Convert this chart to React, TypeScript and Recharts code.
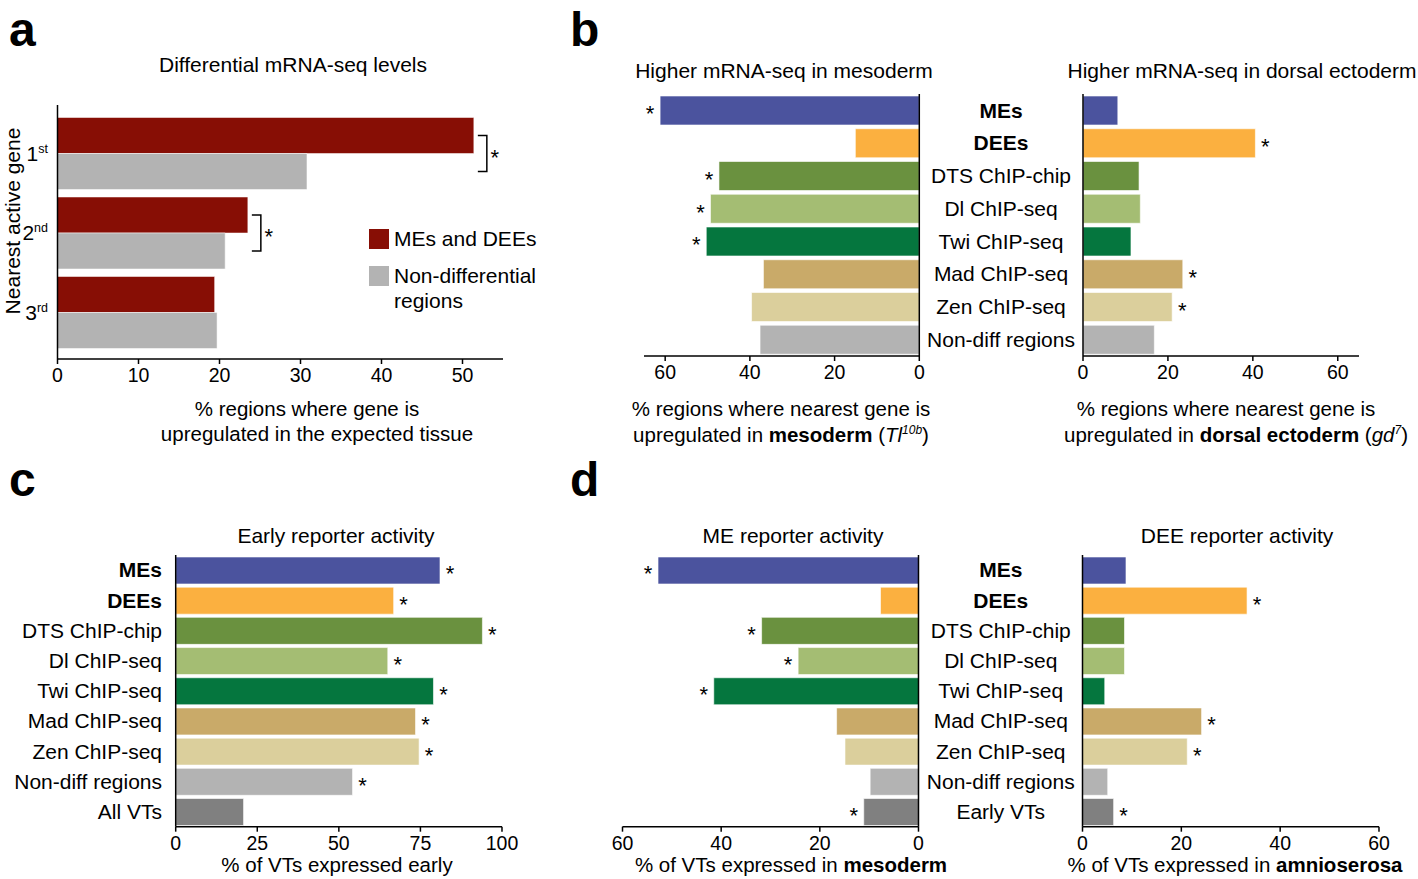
import React from 'react';
import { BarChart, Bar, XAxis, YAxis, Cell, LabelList } from 'recharts';

// panel a: nearest active gene
const aRanks = ['1', '2', '3'];
const aSuffix = ['st', 'nd', 'rd'];
const aDiffEnh = [51.4, 23.5, 19.4];
const aNonDiff = [30.8, 20.7, 19.7];
const aSignif = [true, true, false];
const aTicks = [0, 10, 20, 30, 40, 50];

// shared enhancer sets + colours
const sets = ['MEs', 'DEEs', 'DTS ChIP-chip', 'Dl ChIP-seq', 'Twi ChIP-seq', 'Mad ChIP-seq', 'Zen ChIP-seq', 'Non-diff regions'];
const setColors = ['#4b539e', '#fbb040', '#6a913f', '#a4bd73', '#05763e', '#c9aa69', '#dbcf9c', '#b3b3b3'];
const vtColor = '#808080';

// panel b: mRNA-seq
const bMesoderm = [61.2, 15.1, 47.3, 49.3, 50.3, 36.8, 39.6, 37.6];
const bMesodermStar = [1, 0, 1, 1, 1, 0, 0, 0];
const bDorsal = [8.2, 40.6, 13.2, 13.5, 11.3, 23.5, 21.0, 16.8];
const bDorsalStar = [0, 1, 0, 0, 0, 1, 1, 0];
const bTicks = [0, 20, 40, 60];

// panel c: early reporter activity
const cSets = [...sets, 'All VTs'];
const cEarly = [81, 66.8, 94, 65, 79, 73.5, 74.6, 54.2, 20.8];
const cEarlyStar = [1, 1, 1, 1, 1, 1, 1, 1, 0];
const cTicks = [0, 25, 50, 75, 100];

// panel d: ME / DEE reporter activity
const dSets = [...sets, 'Early VTs'];
const dMesoderm = [52.8, 7.7, 31.8, 24.4, 41.5, 16.6, 14.9, 9.8, 11.1];
const dMesodermStar = [1, 0, 1, 1, 1, 0, 0, 0, 1];
const dAmnio = [8.8, 33.3, 8.5, 8.5, 4.5, 24.1, 21.2, 5.1, 6.3];
const dAmnioStar = [0, 1, 0, 0, 0, 1, 1, 0, 1];
const dTicks = [0, 20, 40, 60];

const FONT = '"Liberation Sans", Arial, Helvetica, sans-serif';
const AX = { stroke: '#000', strokeWidth: 1.5 };
const STAR_SIZE = 22;

const makeRows = (names: string[], values: number[], stars: number[]) =>
  names.map((name, i) => ({ name, value: values[i], star: stars[i] ? '*' : '' }));

const aRows = aRanks.map((r, i) => ({
  name: r,
  diff: aDiffEnh[i],
  nondiff: aNonDiff[i],
  sig: aSignif[i] ? '*' : '',
}));

const colorsFor = (n: number) => [...setColors, vtColor].slice(0, n);

// asterisk next to a bar
const star = (side: 'left' | 'right') => (props: any) => {
  if (!props.value) return null;
  const vb = props.viewBox ?? props;
  const x = Number(vb.x), w = Number(vb.width), y = Number(vb.y), h = Number(vb.height);
  const left = Math.min(x, x + w);
  const right = Math.max(x, x + w);
  const cx = side === 'right' ? right + 10 : left - 10;
  return (
    <text x={cx} y={y + h / 2 + 11} textAnchor="middle" fontSize={STAR_SIZE} fill="#000">
      *
    </text>
  );
};

// bracket joining the two bars of a group in panel a
const bracket = (props: any) => {
  if (!props.value) return null;
  const vb = props.viewBox ?? props;
  const x = Number(vb.x), w = Number(vb.width), y = Number(vb.y), h = Number(vb.height);
  const right = Math.max(x, x + w);
  const y1 = y + h / 2;
  const y2 = y1 + h;
  return (
    <g>
      <path d={`M${right + 4},${y1}H${right + 13}V${y2}H${right + 4}`} stroke="#000" strokeWidth={1.5} fill="none" />
      <text x={right + 21} y={(y1 + y2) / 2 + 11} textAnchor="middle" fontSize={STAR_SIZE} fill="#000">
        *
      </text>
    </g>
  );
};

const RankTick = ({ y, payload }: any) => {
  const i = aRanks.indexOf(payload.value);
  return (
    <text x={48} y={y} dy="0.35em" textAnchor="end" fontSize={21} fill="#000">
      <tspan>{payload.value}</tspan>
      <tspan fontSize={12.5} dy={-8}>{aSuffix[i]}</tspan>
    </text>
  );
};

const labelTick = (x: number, anchor: 'middle' | 'end') => ({ y, payload }: any) => {
  const bold = payload.value === 'MEs' || payload.value === 'DEEs';
  return (
    <text x={x} y={y} dy="0.35em" textAnchor={anchor} fontSize={21} fontWeight={bold ? 700 : 400} fill="#000">
      {payload.value}
    </text>
  );
};

const Txt = ({ x, y, size = 20.5, weight = 400, children, rotate = false }: any) => (
  <div
    style={{
      position: 'absolute',
      left: x,
      top: y,
      fontSize: size,
      fontWeight: weight,
      lineHeight: 1,
      whiteSpace: 'nowrap',
      transform: `translate(-50%, -50%)${rotate ? ' rotate(-90deg)' : ''}`,
    }}
  >
    {children}
  </div>
);

const Letter = ({ x, y, children }: any) => (
  <div style={{ position: 'absolute', left: x, top: y, fontSize: 48, fontWeight: 700, lineHeight: 1 }}>{children}</div>
);

const tickStyle = { fill: '#000', fontSize: 19.5 };

// a horizontal bar panel; mirrored = bars grow to the left
const SetPanel = ({ left, top, width, height, margin, rows, colors, ticks, domain, mirrored, labels, yWidth, tick, barSize }: any) => (
  <div style={{ position: 'absolute', left, top }}>
    <BarChart width={width} height={height} data={rows} layout="vertical" margin={margin} barCategoryGap={0}>
      <XAxis
        type="number"
        domain={domain}
        ticks={ticks}
        reversed={mirrored}
        allowDataOverflow
        height={40}
        axisLine={AX}
        tickLine={AX}
        tickSize={5}
        tickMargin={4}
        tick={tickStyle}
      />
      <YAxis
        type="category"
        dataKey="name"
        orientation={mirrored ? 'right' : 'left'}
        width={yWidth}
        axisLine={AX}
        tickLine={false}
        tick={labels ? tick : false}
      />
      <Bar dataKey="value" barSize={barSize} isAnimationActive={false} stroke="#ffffff" strokeOpacity={0.6} strokeWidth={1}>
        {rows.map((r: any, i: number) => (
          <Cell key={r.name} fill={colors[i]} />
        ))}
        <LabelList dataKey="star" content={star(mirrored ? 'left' : 'right')} />
      </Bar>
    </BarChart>
  </div>
);

export default function App() {
  return (
    <div
      style={{
        position: 'absolute',
        left: 0,
        top: 0,
        width: 1418,
        height: 879,
        background: '#fff',
        fontFamily: FONT,
        color: '#000',
      }}
    >
      <Letter x={9} y={6}>a</Letter>
      <Letter x={570} y={6}>b</Letter>
      <Letter x={9} y={456}>c</Letter>
      <Letter x={570} y={456}>d</Letter>

      {/* panel a */}
      <Txt x={293} y={64} size={21}>Differential mRNA-seq levels</Txt>
      <Txt x={12} y={221} size={21} rotate>Nearest active gene</Txt>
      <div style={{ position: 'absolute', left: 0, top: 95 }}>
        <BarChart width={520} height={304} data={aRows} layout="vertical" margin={{ top: 10, right: 17, bottom: 0, left: 0 }} barGap={0}>
          <XAxis
            type="number"
            domain={[0, 55]}
            ticks={aTicks}
            allowDataOverflow
            height={40}
            axisLine={AX}
            tickLine={AX}
            tickSize={5}
            tickMargin={4}
            tick={tickStyle}
          />
          <YAxis
            type="category"
            dataKey="name"
            width={57.5}
            axisLine={AX}
            tickLine={false}
            tick={<RankTick />}
            padding={{ top: 8.5, bottom: 7 }}
          />
          <Bar dataKey="diff" fill="#870e05" barSize={36} isAnimationActive={false} stroke="#ffffff" strokeOpacity={0.5} strokeWidth={1}>
            <LabelList dataKey="sig" content={bracket} />
          </Bar>
          <Bar dataKey="nondiff" fill="#b3b3b3" barSize={36} isAnimationActive={false} stroke="#ffffff" strokeOpacity={0.5} strokeWidth={1} />
        </BarChart>
      </div>
      <div style={{ position: 'absolute', left: 369, top: 229, width: 20, height: 20, background: '#870e05' }} />
      <div style={{ position: 'absolute', left: 369, top: 266, width: 20, height: 20, background: '#b3b3b3' }} />
      <div style={{ position: 'absolute', left: 394, top: 228, fontSize: 21, lineHeight: '22px' }}>MEs and DEEs</div>
      <div style={{ position: 'absolute', left: 394, top: 263, fontSize: 21, lineHeight: '25px' }}>
        Non-differential
        <br />
        regions
      </div>
      <Txt x={307} y={409}>% regions where gene is</Txt>
      <Txt x={317} y={434}>upregulated in the expected tissue</Txt>

      {/* panel b */}
      <Txt x={784} y={70} size={21}>Higher mRNA-seq in mesoderm</Txt>
      <Txt x={1242} y={70} size={21}>Higher mRNA-seq in dorsal ectoderm</Txt>
      <SetPanel
        left={600}
        top={84}
        width={329.3}
        height={312}
        margin={{ top: 10, right: 0, bottom: 0, left: 44 }}
        rows={makeRows(sets, bMesoderm, bMesodermStar)}
        colors={colorsFor(8)}
        ticks={bTicks}
        domain={[0, 65]}
        mirrored
        labels={false}
        yWidth={10}
        barSize={29}
      />
      <SetPanel
        left={919.3}
        top={84}
        width={460}
        height={312}
        margin={{ top: 10, right: 20, bottom: 0, left: 0 }}
        rows={makeRows(sets, bDorsal, bDorsalStar)}
        colors={colorsFor(8)}
        ticks={bTicks}
        domain={[0, 65]}
        mirrored={false}
        labels
        yWidth={164}
        tick={labelTick(82, 'middle')}
        barSize={29}
      />
      <Txt x={781} y={409}>% regions where nearest gene is</Txt>
      <Txt x={781} y={435}>
        upregulated in <b>mesoderm</b> (<i>Tl</i>
        <sup style={{ fontSize: 12, fontStyle: 'italic' }}>10b</sup>)
      </Txt>
      <Txt x={1226} y={409}>% regions where nearest gene is</Txt>
      <Txt x={1236} y={435}>
        upregulated in <b>dorsal ectoderm</b> (<i>gd</i>
        <sup style={{ fontSize: 12, fontStyle: 'italic' }}>7</sup>)
      </Txt>

      {/* panel c */}
      <Txt x={336} y={535} size={21}>Early reporter activity</Txt>
      <SetPanel
        left={0}
        top={545.3}
        width={522}
        height={321.7}
        margin={{ top: 10, right: 20, bottom: 0, left: 0 }}
        rows={makeRows(cSets, cEarly, cEarlyStar)}
        colors={colorsFor(9)}
        ticks={cTicks}
        domain={[0, 100]}
        mirrored={false}
        labels
        yWidth={175.7}
        tick={labelTick(162, 'end')}
        barSize={27}
      />
      <Txt x={337} y={865}>% of VTs expressed early</Txt>

      {/* panel d */}
      <Txt x={793} y={535} size={21}>ME reporter activity</Txt>
      <Txt x={1237} y={535} size={21}>DEE reporter activity</Txt>
      <SetPanel
        left={600}
        top={545.3}
        width={328.5}
        height={321.7}
        margin={{ top: 10, right: 0, bottom: 0, left: 22.5 }}
        rows={makeRows(dSets, dMesoderm, dMesodermStar)}
        colors={colorsFor(9)}
        ticks={dTicks}
        domain={[0, 60]}
        mirrored
        labels={false}
        yWidth={10}
        barSize={27}
      />
      <SetPanel
        left={918.5}
        top={545.3}
        width={480}
        height={321.7}
        margin={{ top: 10, right: 20, bottom: 0, left: 0 }}
        rows={makeRows(dSets, dAmnio, dAmnioStar)}
        colors={colorsFor(9)}
        ticks={dTicks}
        domain={[0, 60]}
        mirrored={false}
        labels
        yWidth={163.5}
        tick={labelTick(81.75, 'middle')}
        barSize={27}
      />
      <Txt x={791} y={865}>
        % of VTs expressed in <b>mesoderm</b>
      </Txt>
      <Txt x={1235} y={865}>
        % of VTs expressed in <b>amnioserosa</b>
      </Txt>
    </div>
  );
}
